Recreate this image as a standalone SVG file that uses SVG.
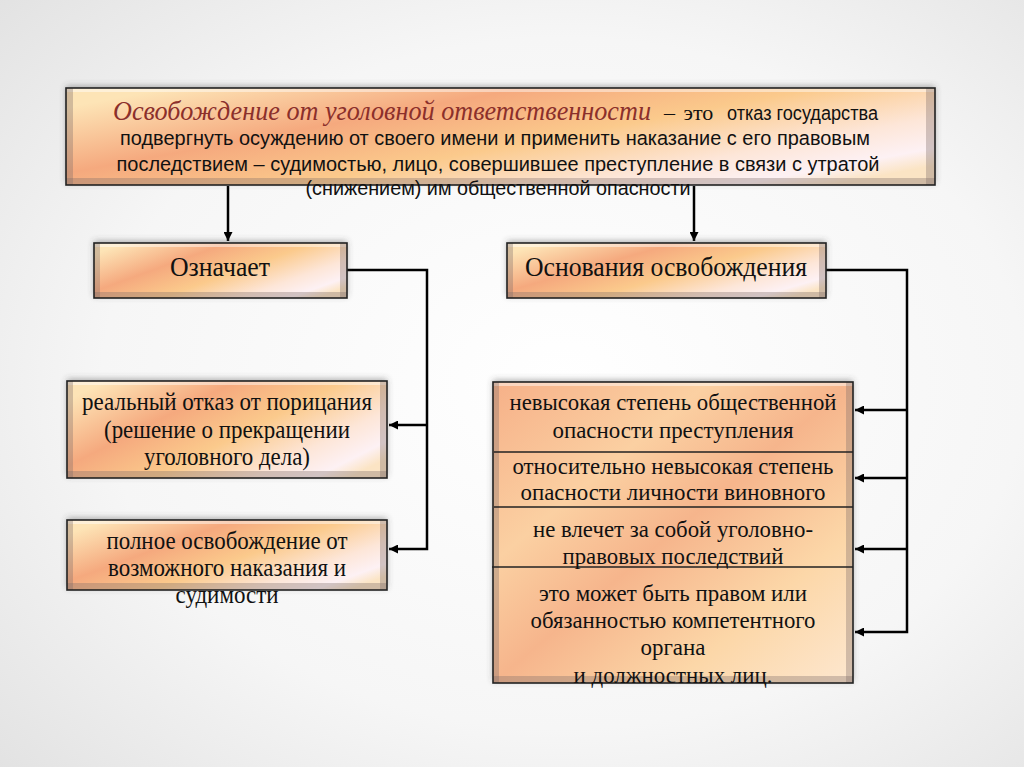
<svg xmlns="http://www.w3.org/2000/svg" width="1024" height="767" viewBox="0 0 1024 767">
<defs>
<radialGradient id="bg" cx="0.55" cy="0.5" r="0.75">
<stop offset="0" stop-color="#ffffff"/>
<stop offset="0.6" stop-color="#f6f6f6"/>
<stop offset="1" stop-color="#e2e2e2"/>
</radialGradient>
<linearGradient id="fill" x1="0" y1="0.2" x2="1" y2="0.8">
<stop offset="0" stop-color="#fde4b6"/>
<stop offset="0.3" stop-color="#f5a97e"/>
<stop offset="0.55" stop-color="#fbca8c"/>
<stop offset="0.78" stop-color="#fde6d8"/>
<stop offset="0.92" stop-color="#fdf1f4"/>
<stop offset="1" stop-color="#fbe4c4"/>
</linearGradient>
<linearGradient id="fillTall" x1="0" y1="0" x2="1" y2="1">
<stop offset="0" stop-color="#f6b088"/>
<stop offset="0.3" stop-color="#fbd0a2"/>
<stop offset="0.5" stop-color="#f6b58c"/>
<stop offset="0.75" stop-color="#fcd7a8"/>
<stop offset="1" stop-color="#fde7cf"/>
</linearGradient>
<filter id="sh" x="-5%" y="-20%" width="110%" height="140%">
<feDropShadow dx="0" dy="-2" stdDeviation="3" flood-color="#444" flood-opacity="0.45"/>
</filter>
<marker id="ah" viewBox="0 0 10 10" refX="10" refY="5" markerWidth="9" markerHeight="9" markerUnits="userSpaceOnUse" orient="auto">
<path d="M0,0 L10,5 L0,10 Z" fill="#000"/>
</marker>
</defs>
<style>
.box{stroke:#222;stroke-width:1.6}
.bevL{fill:#7d6e6a;fill-opacity:0.35}
.bevT{fill:#fff;fill-opacity:0.45}
.serif{font-family:"Liberation Serif","Times New Roman",serif;fill:#111}
.sans{font-family:"Liberation Sans",Arial,sans-serif;fill:#111}
.conn{fill:none;stroke:#000;stroke-width:2.5}
.div{stroke:#222;stroke-width:1.3}
</style>
<rect x="0" y="0" width="1024" height="767" fill="url(#bg)"/>

<g id="connectors">
<path class="conn" d="M228,186 V241" marker-end="url(#ah)"/>
<path class="conn" d="M694,186 V241" marker-end="url(#ah)"/>
<path class="conn" d="M347,270 H427 V549 H389" marker-end="url(#ah)"/>
<path class="conn" d="M427,425 H389" marker-end="url(#ah)"/>
<path class="conn" d="M826,270 H907 V632 H855" marker-end="url(#ah)"/>
<path class="conn" d="M907,410 H855" marker-end="url(#ah)"/>
<path class="conn" d="M907,478 H855" marker-end="url(#ah)"/>
<path class="conn" d="M907,549 H855" marker-end="url(#ah)"/>
</g>

<g id="definition">
<rect x="66" y="88" width="869" height="97" fill="url(#fill)" filter="url(#sh)"/>
<rect x="66" y="88" width="869" height="4" class="bevT"/>
<rect x="66" y="88" width="7" height="97" class="bevL"/>
<rect x="926" y="88" width="9" height="97" class="bevL"/>
<rect x="66" y="178" width="869" height="7" class="bevL"/>
<rect x="66" y="88" width="869" height="97" fill="none" class="box"/>
<text x="113" y="120" class="serif" font-style="italic" font-size="27" style="fill:#8b2f2b" textLength="538" lengthAdjust="spacingAndGlyphs">Освобождение от уголовной ответственности</text>
<text x="664" y="120" class="serif" font-size="22" word-spacing="3">– это</text>
<text x="727" y="120" class="sans" font-size="20" textLength="151" lengthAdjust="spacingAndGlyphs">отказ государства</text>
<text x="495" y="145" class="sans" font-size="20.5" text-anchor="middle" textLength="750" lengthAdjust="spacingAndGlyphs">подвергнуть осуждению от своего имени и применить наказание с его правовым</text>
<text x="498" y="171" class="sans" font-size="20.5" text-anchor="middle" textLength="763" lengthAdjust="spacingAndGlyphs">последствием – судимостью, лицо, совершившее преступление в связи с утратой</text>
<text x="498" y="195" class="sans" font-size="20.5" text-anchor="middle" textLength="385" lengthAdjust="spacingAndGlyphs">(снижением) им общественной опасности</text>
</g>

<g id="means">
<rect x="94" y="243" width="253" height="55" fill="url(#fill)" filter="url(#sh)"/>
<rect x="94" y="243" width="253" height="4" class="bevT"/>
<rect x="94" y="243" width="6" height="55" class="bevL"/>
<rect x="340" y="243" width="7" height="55" class="bevL"/>
<rect x="94" y="292" width="253" height="6" class="bevL"/>
<rect x="94" y="243" width="253" height="55" fill="none" class="box"/>
<text x="220" y="276" class="serif" font-size="28" text-anchor="middle" textLength="100" lengthAdjust="spacingAndGlyphs">Означает</text>
</g>

<g id="grounds">
<rect x="507" y="243" width="319" height="55" fill="url(#fill)" filter="url(#sh)"/>
<rect x="507" y="243" width="319" height="4" class="bevT"/>
<rect x="507" y="243" width="6" height="55" class="bevL"/>
<rect x="819" y="243" width="7" height="55" class="bevL"/>
<rect x="507" y="292" width="319" height="6" class="bevL"/>
<rect x="507" y="243" width="319" height="55" fill="none" class="box"/>
<text x="666" y="276" class="serif" font-size="28" text-anchor="middle" textLength="282" lengthAdjust="spacingAndGlyphs">Основания освобождения</text>
</g>

<g id="real-refusal">
<rect x="67" y="381" width="320" height="97" fill="url(#fill)" filter="url(#sh)"/>
<rect x="67" y="381" width="320" height="4" class="bevT"/>
<rect x="67" y="381" width="6" height="97" class="bevL"/>
<rect x="380" y="381" width="7" height="97" class="bevL"/>
<rect x="67" y="471" width="320" height="7" class="bevL"/>
<rect x="67" y="381" width="320" height="97" fill="none" class="box"/>
<text x="227" y="410" class="serif" font-size="25" text-anchor="middle" textLength="290" lengthAdjust="spacingAndGlyphs">реальный отказ от порицания</text>
<text x="227" y="438" class="serif" font-size="25" text-anchor="middle" textLength="246" lengthAdjust="spacingAndGlyphs">(решение о прекращении</text>
<text x="227" y="465" class="serif" font-size="25" text-anchor="middle" textLength="166" lengthAdjust="spacingAndGlyphs">уголовного дела)</text>
</g>

<g id="full-release">
<rect x="67" y="520" width="320" height="70" fill="url(#fill)" filter="url(#sh)"/>
<rect x="67" y="520" width="320" height="4" class="bevT"/>
<rect x="67" y="520" width="6" height="70" class="bevL"/>
<rect x="380" y="520" width="7" height="70" class="bevL"/>
<rect x="67" y="583" width="320" height="7" class="bevL"/>
<rect x="67" y="520" width="320" height="70" fill="none" class="box"/>
<text x="227" y="549" class="serif" font-size="25" text-anchor="middle" textLength="241" lengthAdjust="spacingAndGlyphs">полное освобождение от</text>
<text x="227" y="576" class="serif" font-size="25" text-anchor="middle" textLength="238" lengthAdjust="spacingAndGlyphs">возможного наказания и</text>
<text x="227" y="603" class="serif" font-size="25" text-anchor="middle" textLength="103" lengthAdjust="spacingAndGlyphs">судимости</text>
</g>

<g id="grounds-list">
<rect x="493" y="382" width="360" height="301" fill="url(#fillTall)" filter="url(#sh)"/>
<rect x="493" y="382" width="360" height="4" class="bevT"/>
<rect x="493" y="382" width="6" height="301" class="bevL"/>
<rect x="846" y="382" width="7" height="301" class="bevL"/>
<rect x="493" y="676" width="360" height="7" class="bevL"/>
<rect x="493" y="382" width="360" height="301" fill="none" class="box"/>
<line class="div" x1="494" y1="452" x2="853" y2="452"/>
<line class="div" x1="494" y1="507" x2="853" y2="507"/>
<line class="div" x1="492" y1="567" x2="853" y2="567"/>
<text x="673" y="410" class="serif" font-size="24" text-anchor="middle" textLength="327" lengthAdjust="spacingAndGlyphs">невысокая степень общественной</text>
<text x="673" y="438" class="serif" font-size="24" text-anchor="middle" textLength="241" lengthAdjust="spacingAndGlyphs">опасности преступления</text>
<text x="673" y="474" class="serif" font-size="24" text-anchor="middle" textLength="321" lengthAdjust="spacingAndGlyphs">относительно невысокая степень</text>
<text x="673" y="500" class="serif" font-size="24" text-anchor="middle" textLength="305" lengthAdjust="spacingAndGlyphs">опасности личности виновного</text>
<text x="673" y="537" class="serif" font-size="24" text-anchor="middle" textLength="280" lengthAdjust="spacingAndGlyphs">не влечет за собой уголовно-</text>
<text x="673" y="564" class="serif" font-size="24" text-anchor="middle" textLength="221" lengthAdjust="spacingAndGlyphs">правовых последствий</text>
<text x="673" y="601" class="serif" font-size="24" text-anchor="middle" textLength="268" lengthAdjust="spacingAndGlyphs">это может быть правом или</text>
<text x="673" y="628" class="serif" font-size="24" text-anchor="middle" textLength="285" lengthAdjust="spacingAndGlyphs">обязанностью компетентного</text>
<text x="673" y="655" class="serif" font-size="24" text-anchor="middle" textLength="65" lengthAdjust="spacingAndGlyphs">органа</text>
<text x="673" y="683" class="serif" font-size="24" text-anchor="middle" textLength="199" lengthAdjust="spacingAndGlyphs">и должностных лиц.</text>
</g>
</svg>
